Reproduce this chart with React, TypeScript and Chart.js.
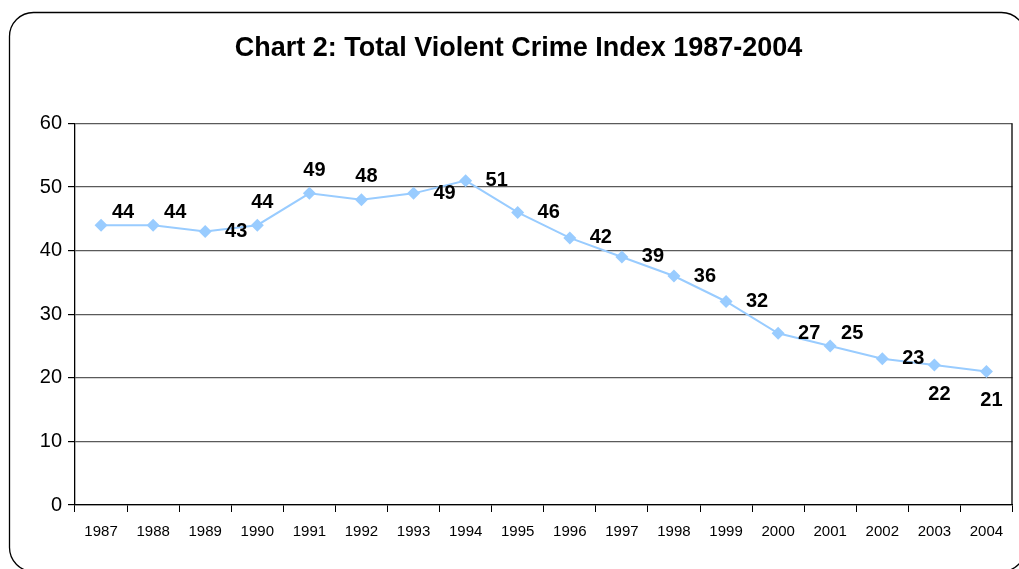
import React, { useEffect, useRef } from "react";
import { Chart, registerables } from "chart.js";

Chart.register(...registerables);

const years = ["1987","1988","1989","1990","1991","1992","1993","1994","1995","1996","1997","1998","1999","2000","2001","2002","2003","2004"];
const crimeIndex = [44, 44, 43, 44, 49, 48, 49, 51, 46, 42, 39, 36, 32, 27, 25, 23, 22, 21];
const yTicks = [0, 10, 20, 30, 40, 50, 60];
const labelPlacement = ["upRight","upRight","right","above","above","above","right","right","right","right","right","right","right","right","upRight","right","below","below"];
const titleText = "Chart 2: Total Violent Crime Index 1987-2004";

const FONT = "'Liberation Sans', Arial, sans-serif";
const placementOffsets: Record<string, [number, number]> = {
  upRight: [22, -13],
  right: [31, 0],
  above: [5, -23],
  below: [5, 29],
};

const framePlugin = {
  id: "frame",
  beforeDraw(chart: any) {
    const ctx = chart.ctx;
    ctx.save();
    ctx.fillStyle = "#ffffff";
    ctx.fillRect(0, 0, chart.width, chart.height);
    ctx.strokeStyle = "#000000";
    ctx.lineWidth = 1.3;
    ctx.beginPath();
    (ctx as any).roundRect(9.5, 12.5, 1016, 559, 24);
    ctx.stroke();
    ctx.restore();
  },
  afterDraw(chart: any) {
    const { ctx, chartArea } = chart;
    ctx.save();
    ctx.strokeStyle = "#000000";
    ctx.lineWidth = 1.3;
    ctx.beginPath();
    ctx.moveTo(chartArea.right - 0.5, chartArea.top);
    ctx.lineTo(chartArea.right - 0.5, chartArea.bottom);
    ctx.stroke();
    ctx.restore();
  },
};

const dataLabelPlugin = {
  id: "dataLabels",
  afterDatasetsDraw(chart: any) {
    const ctx = chart.ctx;
    const meta = chart.getDatasetMeta(0);
    ctx.save();
    ctx.fillStyle = "#000000";
    ctx.font = `bold 20px ${FONT}`;
    ctx.textAlign = "center";
    ctx.textBaseline = "middle";
    meta.data.forEach((pt: any, i: number) => {
      const [dx, dy] = placementOffsets[labelPlacement[i]] || [0, -15];
      ctx.fillText(String(crimeIndex[i]), pt.x + dx, pt.y + dy);
    });
    ctx.restore();
  },
};

export default function App() {
  const canvasRef = useRef<HTMLCanvasElement | null>(null);

  useEffect(() => {
    if (!canvasRef.current) return;
    const chart = new Chart(canvasRef.current, {
      type: "line",
      data: {
        labels: years,
        datasets: [
          {
            data: crimeIndex,
            borderColor: "#99CCFF",
            backgroundColor: "#99CCFF",
            borderWidth: 2,
            pointStyle: "rectRot",
            pointRadius: 6.5,
            pointHoverRadius: 6.5,
            pointBackgroundColor: "#99CCFF",
            pointBorderColor: "#99CCFF",
            pointBorderWidth: 0,
            tension: 0,
          },
        ],
      },
      options: {
        animation: false,
        responsive: false,
        maintainAspectRatio: false,
        layout: { padding: { left: 20, right: 2, top: 0, bottom: 17 } },
        plugins: {
          legend: { display: false },
          tooltip: { enabled: false },
          title: {
            display: true,
            text: titleText,
            color: "#000000",
            font: { family: FONT, size: 27, weight: "bold" },
            padding: { top: 32, bottom: 59 },
          },
        },
        scales: {
          x: {
            offset: true,
            grid: {
              display: true,
              drawOnChartArea: false,
              drawTicks: true,
              tickLength: 7,
              offset: true,
              tickColor: "#000000",
            },
            border: { display: true, color: "#000000", width: 1.3 },
            ticks: {
              color: "#000000",
              font: { family: FONT, size: 15 },
              padding: 11,
              maxRotation: 0,
              autoSkip: false,
            },
          },
          y: {
            min: 0,
            max: 60,
            afterBuildTicks(scale: any) {
              scale.ticks = yTicks.map((v) => ({ value: v }));
            },
            afterFit(scale: any) {
              scale.width = 55;
            },
            grid: {
              color: "#5a5a5a",
              lineWidth: 1.2,
              drawTicks: true,
              tickLength: 7,
              tickColor: "#000000",
            },
            border: { display: true, color: "#000000", width: 1.3 },
            ticks: {
              color: "#000000",
              font: { family: FONT, size: 20 },
              padding: 6,
              stepSize: 10,
            },
          },
        },
      },
      plugins: [framePlugin, dataLabelPlugin],
    });
    return () => chart.destroy();
  }, []);

  return (
    <div style={{ position: "fixed", left: 0, top: 0, width: 1019, height: 569, overflow: "hidden", background: "#fff" }}>
      <canvas ref={canvasRef} width={1019} height={569} style={{ width: 1019, height: 569, display: "block" }} />
    </div>
  );
}
